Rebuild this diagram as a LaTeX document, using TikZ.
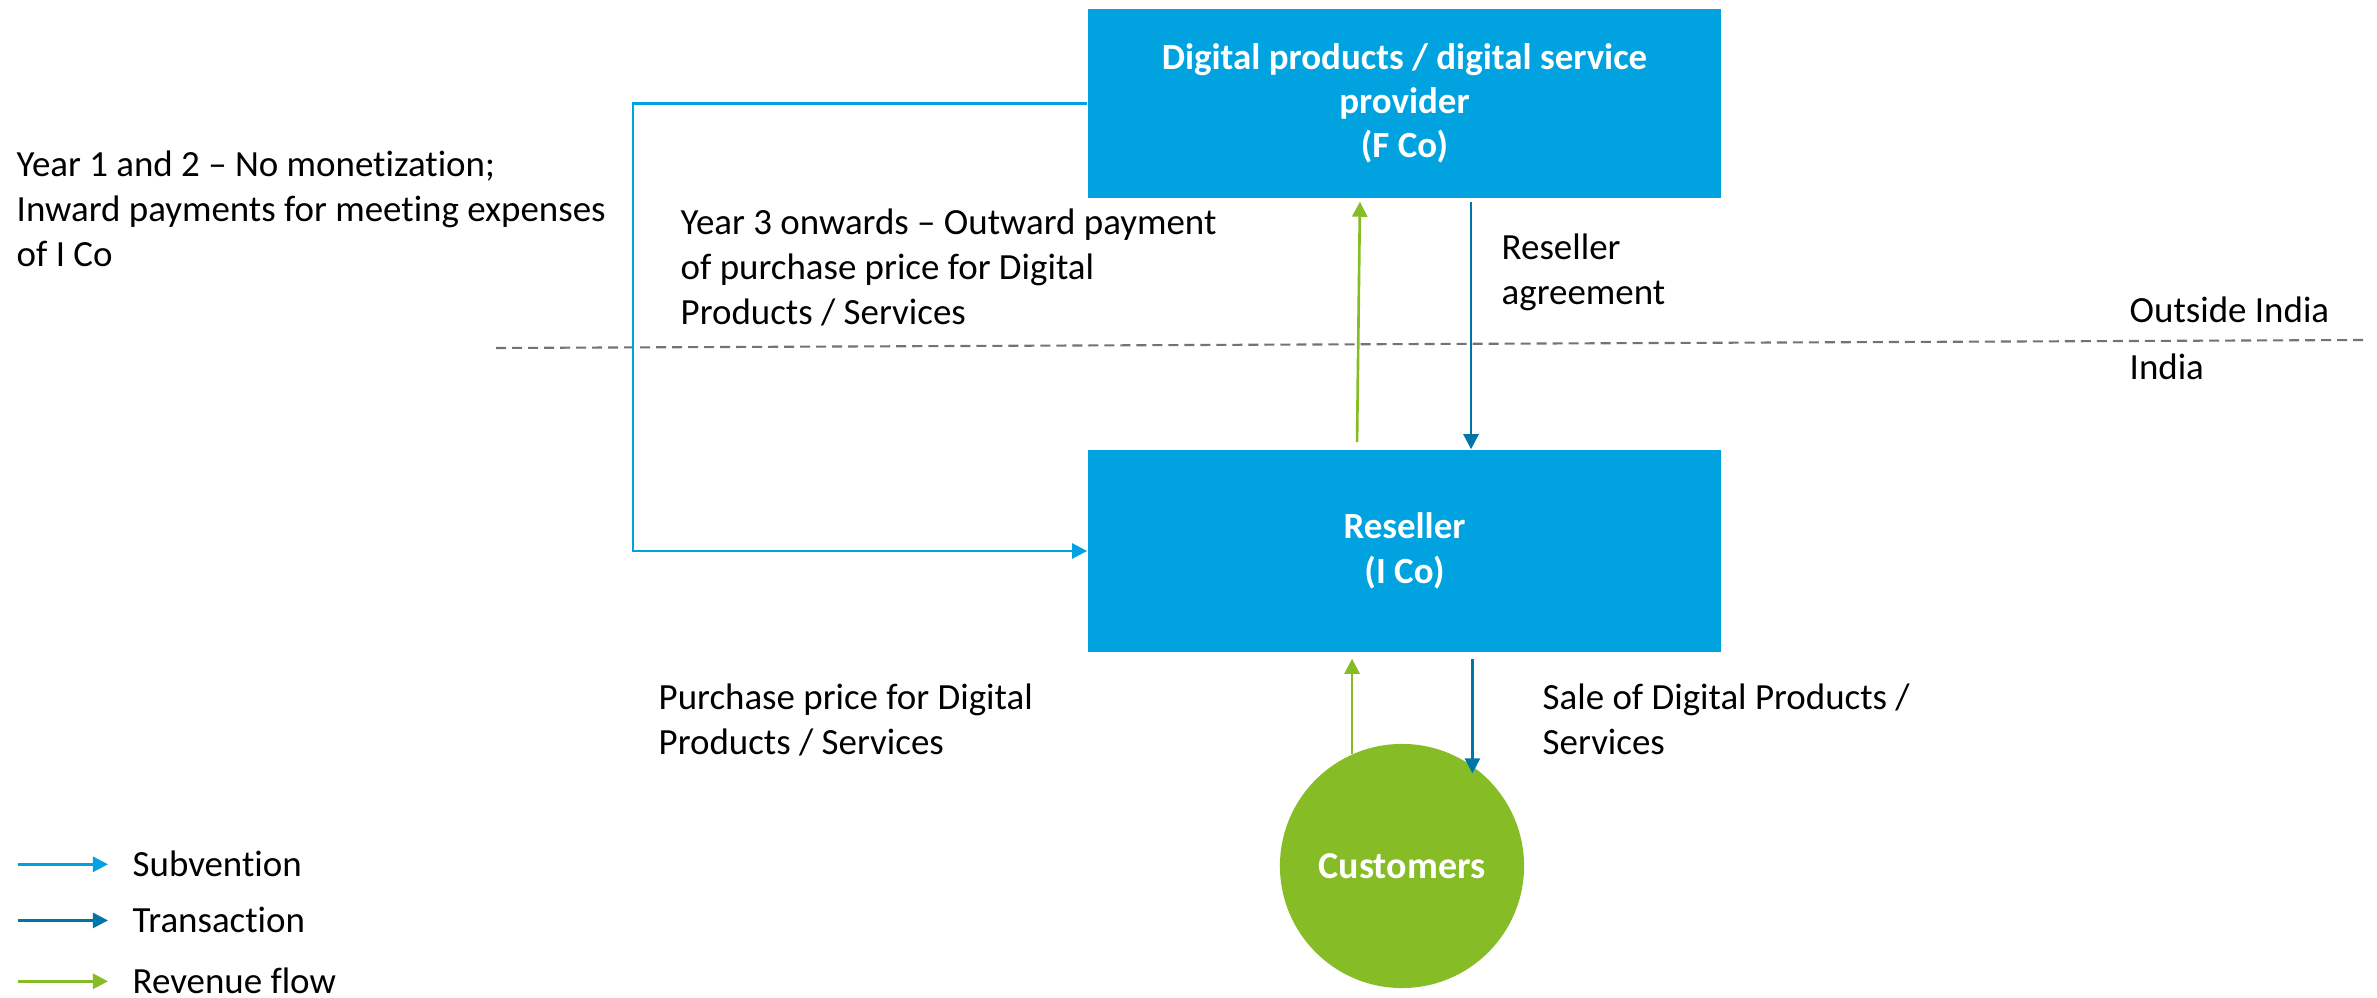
\documentclass[tikz,border=0pt]{standalone}
\usepackage{fontspec}
\setmainfont{Carlito}[Ligatures=NoCommon]
\usetikzlibrary{arrows.meta}
\definecolor{dblue}{HTML}{00A3E0}
\definecolor{dtrans}{HTML}{0076A8}
\definecolor{dgreen}{HTML}{86BC25}

\begin{document}
\begin{tikzpicture}[x=0.01cm, y=-0.01cm,
    every node/.style={font=\fontsize{10.5}{12.8}\selectfont, inner sep=0pt},
    box/.style={rectangle, fill=dblue, text=white, minimum width=6.33cm, align=center,
      font=\fontsize{10.5}{12.6}\selectfont\bfseries},
    note/.style={anchor=base west, align=left},
    subv/.style={draw=dblue, line width=0.75pt, -{Triangle[length=0.15cm, width=0.15cm]}},
    trans/.style={draw=dtrans, line width=0.75pt, -{Triangle[length=0.15cm, width=0.15cm]}},
    rev/.style={draw=dgreen, line width=0.75pt, -{Triangle[length=0.15cm, width=0.15cm]}}
    ]
    \useasboundingbox (0,0) rectangle (2377,998);

    % parties
    \node[box, minimum height=1.89cm] (fco) at (1404.5,103.5) {Digital products / digital service\\provider\\(F Co)};
    \node[box, minimum height=2.02cm] (ico) at (1404.5,551) {Reseller\\(I Co)};
    \node[circle, fill=dgreen, minimum size=2.44cm, text=white,
      font=\fontsize{10.8}{12.8}\selectfont\bfseries] (cust) at (1402,866) {Customers};

    % border between the two countries
    \coordinate (bl) at (496,348);
    \coordinate (br) at (2365,340);
    \draw[black!55, line width=0.6pt, dash pattern=on 0.1cm off 0.06cm] (bl) -- (br);
    \node[note] (out) at (2129,323) {Outside India};
    \node[note] (ind) at (2129,380) {India};

    % flows
    \draw[subv] (fco.west) -- ++(-454,0) |- (ico.west);
    \draw[rev, shorten <=0.07cm, shorten >=0.03cm] ([xshift=-0.475cm]ico.north) -- ([xshift=-0.445cm]fco.south);
    \draw[trans, shorten <=0.03cm] ([xshift=0.665cm]fco.south) -- ([xshift=0.665cm]ico.north);
    \draw[rev, shorten >=0.06cm] (cust.114) -- (cust.114 |- ico.south);
    \draw[trans, shorten <=0.06cm, shorten >=-0.08cm] (cust.55 |- ico.south) -- (cust.55);

    % labels (base = last line)
    \node[note] (yr12) at (16,267) {Year 1 and 2 – No monetization;\\Inward payments for meeting expenses\\of I Co};
    \node[note] (yr3) at (680,325) {Year 3 onwards – Outward payment\\of purchase price for Digital\\Products / Services};
    \node[note] (agr) at (1501,305) {Reseller\\agreement};
    \node[note] (buy) at (658,755) {Purchase price for Digital\\Products / Services};
    \node[note] (sale) at (1542,755) {Sale of Digital Products /\\Services};

    % legend
    \node[note] (lsub) at (132,877) {Subvention};
    \node[note] (ltrans) at (132,933) {Transaction};
    \node[note] (lrev) at (132,994) {Revenue flow};
    \draw[subv] ([xshift=-1.14cm]lsub.west) -- ([xshift=-0.24cm]lsub.west);
    \draw[trans] ([xshift=-1.14cm]ltrans.west) -- ([xshift=-0.24cm]ltrans.west);
    \draw[rev] ([xshift=-1.14cm]lrev.west) -- ([xshift=-0.24cm]lrev.west);
\end{tikzpicture}
\end{document}
